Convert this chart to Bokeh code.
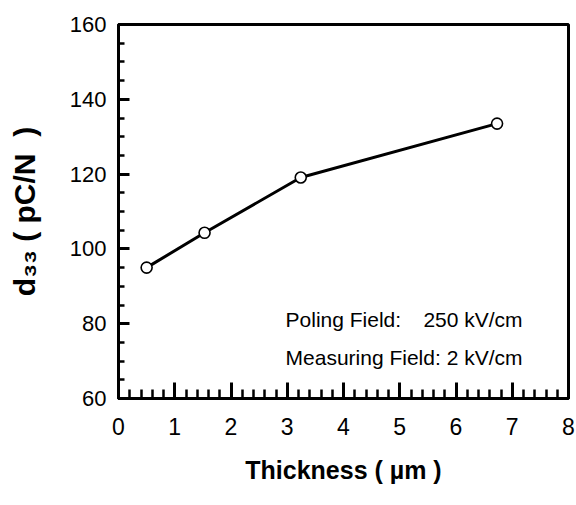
from bokeh.plotting import figure
from bokeh.models import SingleIntervalTicker, Label, ColumnDataSource
from bokeh.embed import file_html
from bokeh.resources import INLINE

# Data
thickness_um = [0.50, 1.53, 3.24, 6.73]
d33_pC_N = [95.0, 104.3, 119.1, 133.5]

x_ticks = [0, 1, 2, 3, 4, 5, 6, 7, 8]
y_ticks = [60, 80, 100, 120, 140, 160]

annot_line1_left = "Poling Field:"
annot_line1_right = "250 kV/cm"
annot_line2 = "Measuring Field: 2 kV/cm"

FONT = "Liberation Sans"

src = ColumnDataSource(dict(x=thickness_um, y=d33_pC_N))

p = figure(width=576, height=505, x_range=(0, 8), y_range=(60, 160),
           output_backend="svg", toolbar_location=None,
           min_border_left=118, min_border_right=8, min_border_top=24, min_border_bottom=107)

p.background_fill_color = "white"
p.border_fill_color = "white"
p.xgrid.visible = False
p.ygrid.visible = False
p.outline_line_color = "black"
p.outline_line_width = 3

p.xaxis.ticker = SingleIntervalTicker(interval=1, num_minor_ticks=5)
p.yaxis.ticker = SingleIntervalTicker(interval=20, num_minor_ticks=4)

for ax in (p.xaxis, p.yaxis):
    ax.axis_line_width = 3
    ax.axis_line_color = "black"
    ax.major_tick_out = 0
    ax.minor_tick_out = 0
    ax.major_tick_line_width = 3
    ax.minor_tick_line_width = 2.5
    ax.major_tick_line_color = "black"
    ax.minor_tick_line_color = "black"
    ax.major_label_text_font = FONT
    ax.major_label_text_color = "black"
    ax.axis_label_text_font = FONT
    ax.axis_label_text_font_style = "bold"
    ax.axis_label_text_color = "black"

p.xaxis.major_tick_in = 16
p.xaxis.minor_tick_in = 9
p.yaxis.major_tick_in = 11
p.yaxis.minor_tick_in = 6

p.xaxis.major_label_text_font_size = "23px"
p.yaxis.major_label_text_font_size = "22px"
p.xaxis.major_label_standoff = 19
p.yaxis.major_label_standoff = 12

p.xaxis.axis_label = "Thickness ( \u00b5m )"
p.xaxis.axis_label_text_font_size = "25px"
p.xaxis.axis_label_standoff = 18

p.yaxis.axis_label = "d\u2083\u2083 ( pC/N\u00a0\u00a0)"
p.yaxis.axis_label_text_font_size = "30px"
p.yaxis.axis_label_standoff = 26

p.line("x", "y", source=src, line_color="black", line_width=3)
p.scatter("x", "y", source=src, marker="circle", size=11, fill_color="white",
          line_color="black", line_width=1.6)

p.add_layout(Label(x=2.97, y=81.2, text=annot_line1_left, text_font=FONT,
                   text_font_size="21px", text_color="black", text_baseline="alphabetic"))
p.add_layout(Label(x=5.42, y=81.2, text=annot_line1_right, text_font=FONT,
                   text_font_size="21px", text_color="black", text_baseline="alphabetic"))
p.add_layout(Label(x=2.97, y=71.0, text=annot_line2, text_font=FONT,
                   text_font_size="21px", text_color="black", text_baseline="alphabetic"))

open("out.html", "w").write(file_html(p, INLINE))
